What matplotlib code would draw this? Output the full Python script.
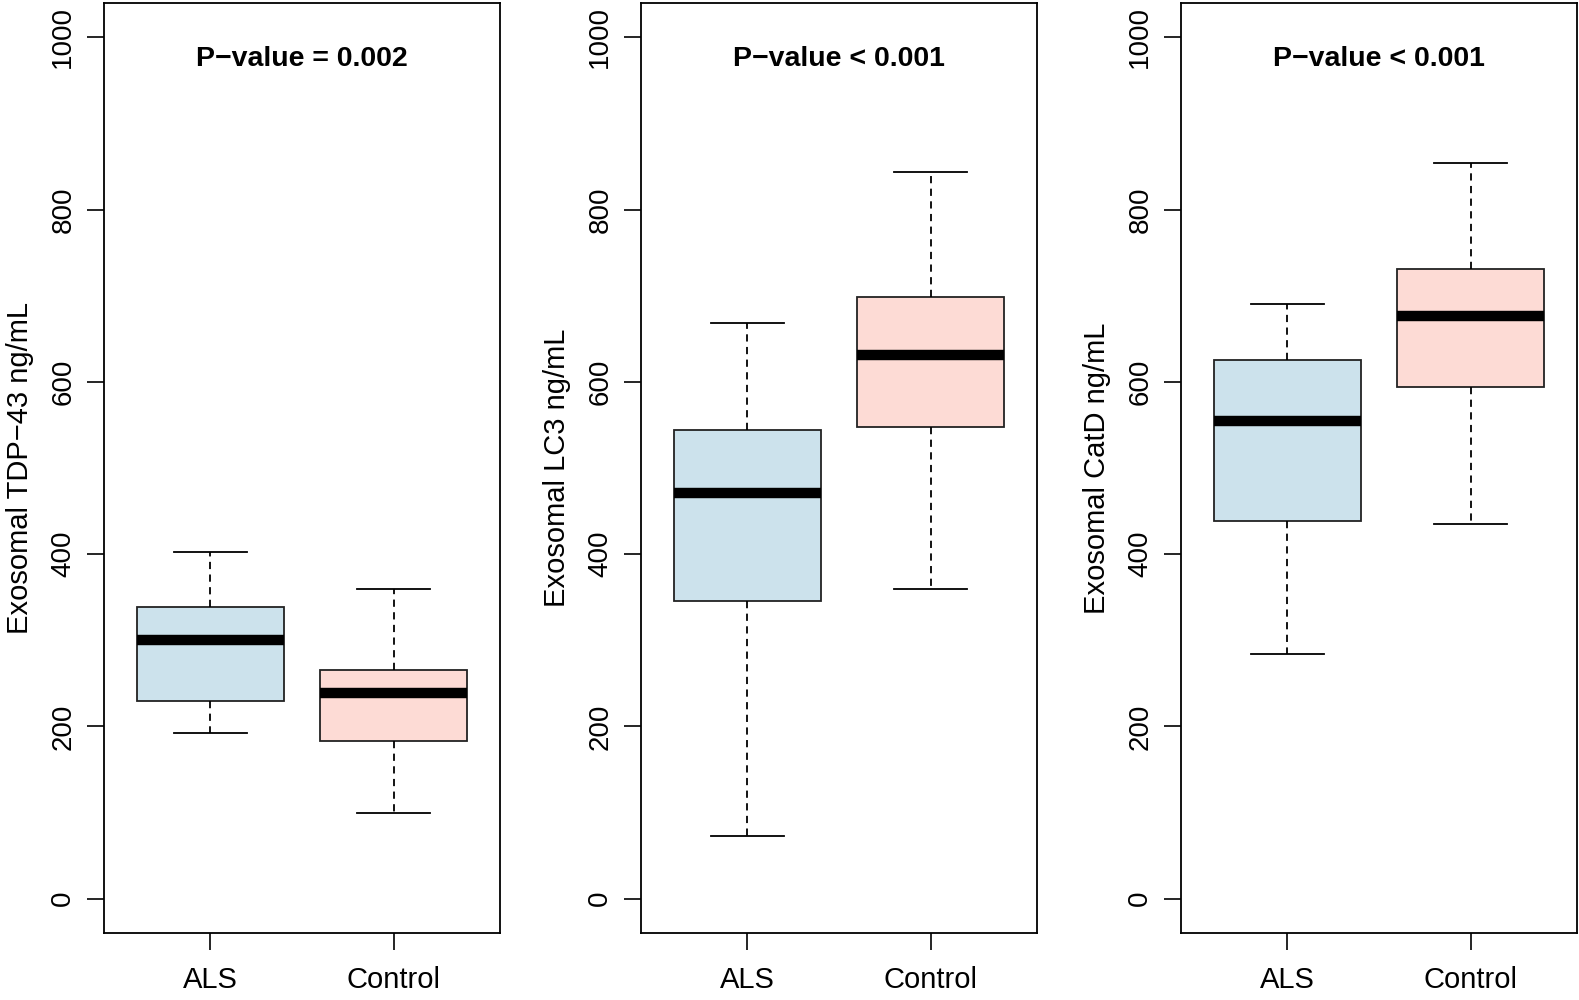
import matplotlib
matplotlib.use("Agg")
import matplotlib.pyplot as plt

plt.rcParams['font.family'] = ['Liberation Sans', 'DejaVu Sans']

groups = ['ALS', 'Control']
ylabels = ['Exosomal TDP\u221243 ng/mL', 'Exosomal LC3 ng/mL', 'Exosomal CatD ng/mL']
titles = ['P\u2212value = 0.002', 'P\u2212value < 0.001', 'P\u2212value < 0.001']

# five-number summaries per panel: [ALS, Control]
whislo = [[192, 99], [73, 360], [284, 435]]
q1 = [[230, 183], [346, 548], [438, 594]]
med = [[300, 239], [471, 631], [555, 676]]
q3 = [[339, 266], [544, 698], [625, 731]]
whishi = [[403, 359], [668, 844], [690, 854]]

box_colors = ['#CCE2EC', '#FDDBD5']
yticks = [0, 200, 400, 600, 800, 1000]

fig = plt.figure(figsize=(15.79, 10), dpi=100)
lefts = [0.0659, 0.406, 0.748]

for i in range(3):
    ax = fig.add_axes([lefts[i], 0.067, 0.2508, 0.930])
    stats = []
    for j in range(2):
        stats.append({'whislo': whislo[i][j], 'q1': q1[i][j], 'med': med[i][j],
                      'q3': q3[i][j], 'whishi': whishi[i][j], 'fliers': []})
    bp = ax.bxp(stats, positions=[1, 2], widths=0.8, capwidths=0.4,
                patch_artist=True, showfliers=False,
                boxprops=dict(edgecolor='#222222', linewidth=1.3),
                whiskerprops=dict(color='black', linewidth=1.3, linestyle=(0, (4, 3))),
                capprops=dict(color='black', linewidth=1.3),
                medianprops=dict(color='black', linewidth=7.5, solid_capstyle='butt'))
    for patch, c in zip(bp['boxes'], box_colors):
        patch.set_facecolor(c)

    ax.set_xlim(0.42, 2.58)
    ax.set_ylim(-40, 1040)
    ax.set_yticks(yticks)
    ax.set_yticklabels([str(t) for t in yticks], rotation=90, va='center', fontsize=20)
    ax.set_xticks([1, 2])
    ax.set_xticklabels(groups, fontsize=21)
    ax.tick_params(axis='both', length=12, width=1.2, pad=8)
    ax.tick_params(axis='x', pad=12)
    for s in ax.spines.values():
        s.set_linewidth(1.3)
    ax.set_ylabel(ylabels[i], fontsize=21, labelpad=12)
    ax.text(1.5, 975, titles[i], ha='center', va='center', fontsize=20.5, fontweight='bold')

fig.savefig('out.png', dpi=100)
